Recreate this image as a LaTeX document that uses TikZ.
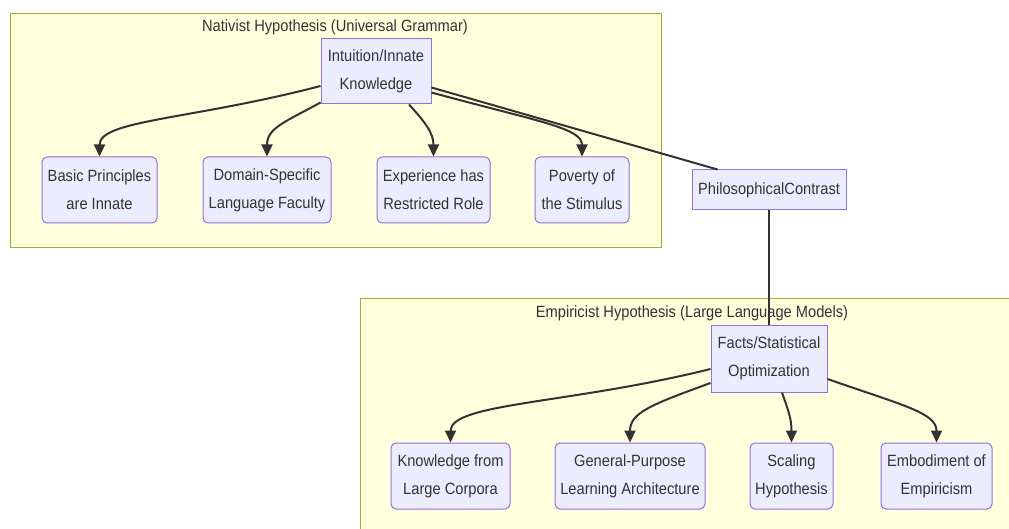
\documentclass[tikz,border=0pt]{standalone}
\usepackage{fontspec}
\setmainfont{Liberation Sans}[FakeStretch=0.9]
\usetikzlibrary{arrows.meta}
\definecolor{clfill}{HTML}{FFFFDE}
\definecolor{clborder}{HTML}{AAAA33}
\definecolor{ndfill}{HTML}{ECECFF}
\definecolor{ndborder}{HTML}{9370DB}
\definecolor{txt}{HTML}{333333}
\begin{document}
\begin{tikzpicture}[x=1pt,y=-1pt,
 cluster/.style={draw=clborder, fill=clfill, line width=1pt},
 base/.style={draw=ndborder, fill=ndfill, line width=1pt, inner sep=0pt, align=center, text=txt, font=\fontsize{16.3}{28}\selectfont},
 leaf/.style={base, rounded corners=5pt},
 hub/.style={base},
 arr/.style={draw=txt, line width=2pt, -{Triangle[length=12pt,width=11pt]}},
 link/.style={draw=txt, line width=2pt},
 ctitle/.style={text=txt, font=\fontsize{16.3}{20}\selectfont, inner sep=0pt}]
\clip (0,0) rectangle (1009,529);
\useasboundingbox (0,0) rectangle (1009,529);
\fill[white] (0,0) rectangle (1009,529);
% clusters
\draw[cluster] (10,14) rectangle (661,248);
\draw[cluster] (360,299) rectangle (1015,535);
\node[ctitle] (tnat) at (335,27) {Nativist Hypothesis (Universal Grammar)};
\node[ctitle] (temp) at (692,313) {Empiricist Hypothesis (Large Language Models)};
% nodes
\node[hub, minimum width=110pt, minimum height=65pt] (intu) at (376,71.5) {Intuition/Innate\\Knowledge};
\node[leaf, minimum width=115pt, minimum height=66pt] (basic) at (99.5,190) {Basic Principles\\are Innate};
\node[leaf, minimum width=128pt, minimum height=66pt] (domain) at (267,190) {Domain-Specific\\Language Faculty};
\node[leaf, minimum width=113pt, minimum height=66pt] (exper) at (433.5,190) {Experience has\\Restricted Role};
\node[leaf, minimum width=94pt, minimum height=66pt] (pov) at (582,190) {Poverty of\\the Stimulus};
\node[hub, minimum width=154pt, minimum height=40pt] (phil) at (769,190) {PhilosophicalContrast};
\node[hub, minimum width=116pt, minimum height=67pt] (facts) at (769,358.5) {Facts/Statistical\\Optimization};
\node[leaf, minimum width=119pt, minimum height=66pt] (know) at (450.5,476) {Knowledge from\\Large Corpora};
\node[leaf, minimum width=150pt, minimum height=66pt] (gen) at (630,476) {General-Purpose\\Learning Architecture};
\node[leaf, minimum width=83pt, minimum height=66pt] (scal) at (791.5,476) {Scaling\\Hypothesis};
\node[leaf, minimum width=111pt, minimum height=66pt] (emb) at (936.5,476) {Embodiment of\\Empiricism};
% edges
\draw[arr] ([yshift=-14.5pt]intu.west) .. controls (190,120) and (99.5,120) .. (basic.north);
\draw[arr] ([yshift=2pt]intu.south west) .. controls (285,122) and (267,128) .. (domain.north);
\draw[arr] ([xshift=33pt]intu.south) .. controls (425,122) and (433.5,133) .. (exper.north);
\draw[arr] ([yshift=-21pt]intu.east) .. controls (540,122) and (582,128) .. (pov.north);
\draw[link] ([yshift=-16pt]intu.east) -- ([xshift=26pt]phil.north west);
\draw[link] (phil) -- (facts);
\draw[arr] ([yshift=-10.5pt]facts.west) .. controls (570,404) and (450.5,403) .. (know.north);
\draw[arr] ([yshift=-24.5pt]facts.west) .. controls (650,405) and (630,413) .. (gen.north);
\draw[arr] ([xshift=13pt]facts.south) .. controls (788,410) and (791.5,418) .. (scal.north);
\draw[arr] ([yshift=-20.5pt]facts.east) .. controls (905,406) and (936.5,413) .. (emb.north);
\end{tikzpicture}
\end{document}
